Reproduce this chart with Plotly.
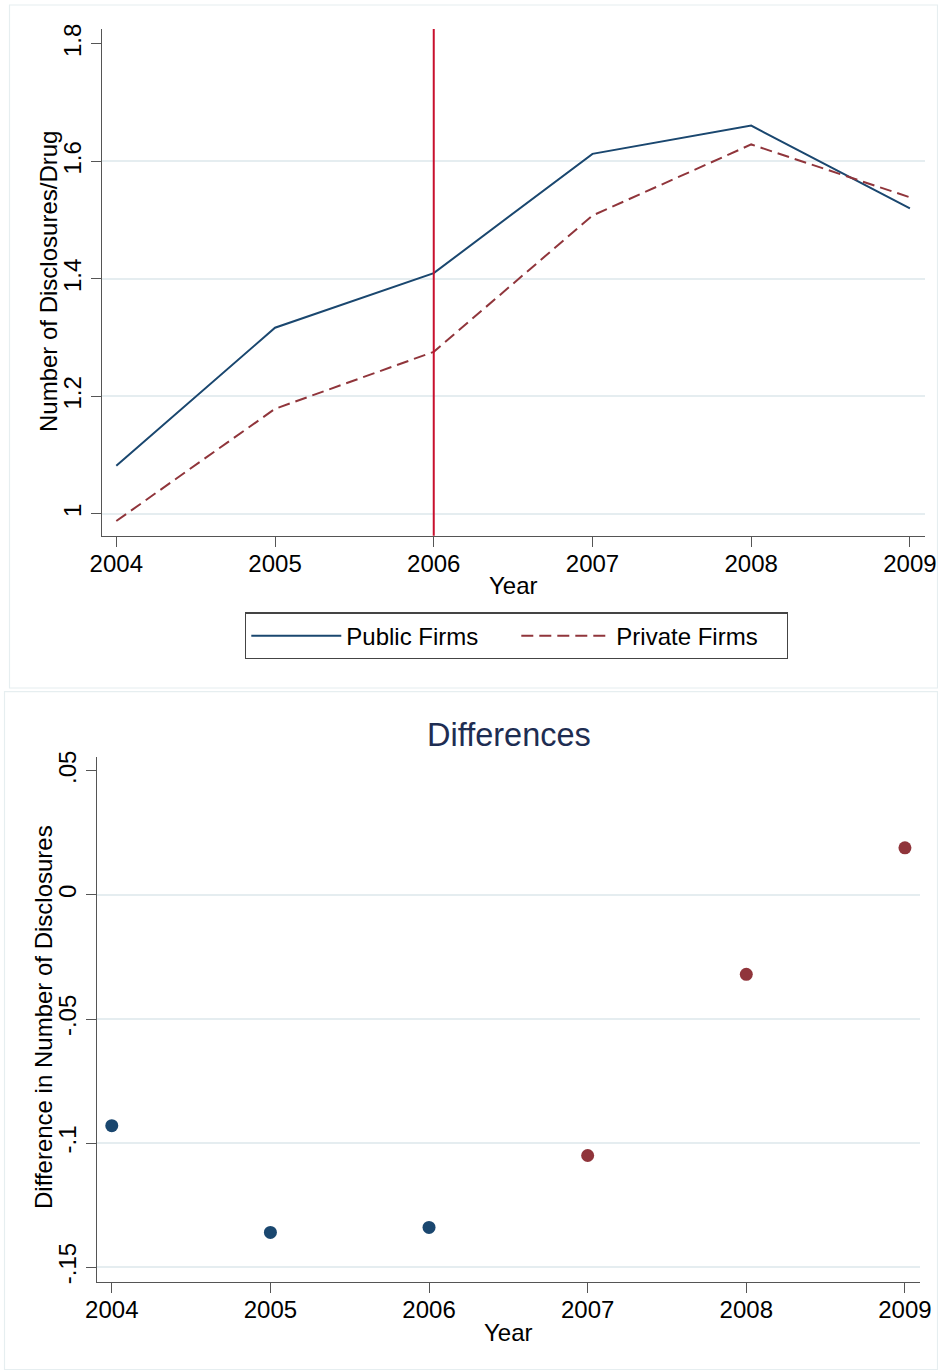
import plotly.graph_objects as go

# ---------------- data ----------------
years = [2004, 2005, 2006, 2007, 2008, 2009]
public_firms = [1.082, 1.317, 1.410, 1.613, 1.661, 1.520]
private_firms = [0.988, 1.179, 1.276, 1.508, 1.629, 1.539]

diff_years_pre = [2004, 2005, 2006]
diff_pre = [-0.093, -0.136, -0.134]
diff_years_post = [2007, 2008, 2009]
diff_post = [-0.105, -0.032, 0.019]

event_year = 2006

top_yticks = [1, 1.2, 1.4, 1.6, 1.8]
top_yticklabels = ["1", "1.2", "1.4", "1.6", "1.8"]
top_ygrid = [1, 1.2, 1.4, 1.6]
bot_yticks = [-0.15, -0.1, -0.05, 0, 0.05]
bot_yticklabels = ["-.15", "-.1", "-.05", "0", ".05"]
bot_ygrid = [-0.15, -0.1, -0.05, 0]

# ---------------- styling ----------------
W, H = 938, 1370
NAVY = "#1a476f"
MAROON = "#90353b"
RED = "#c8102e"
GRID = "#e5edf0"
AXIS = "#555555"
FONT = "Liberation Sans, Arial, sans-serif"
FS = 24


def fx(p):
    return p / W


def fy(p):
    return 1 - p / H


fig = go.Figure()

fig.add_trace(go.Scatter(
    x=years, y=public_firms, mode="lines", name="Public Firms",
    line=dict(color=NAVY, width=2), xaxis="x", yaxis="y"))
fig.add_trace(go.Scatter(
    x=years, y=private_firms, mode="lines", name="Private Firms",
    line=dict(color=MAROON, width=2, dash="12px,6px"), xaxis="x", yaxis="y"))

fig.add_trace(go.Scatter(
    x=diff_years_pre, y=diff_pre, mode="markers", showlegend=False,
    marker=dict(color=NAVY, size=13, line=dict(width=0)), xaxis="x2", yaxis="y2"))
fig.add_trace(go.Scatter(
    x=diff_years_post, y=diff_post, mode="markers", showlegend=False,
    marker=dict(color=MAROON, size=13, line=dict(width=0)), xaxis="x2", yaxis="y2"))

xcommon = dict(
    tickvals=years, ticks="outside", ticklen=10, tickwidth=1.2, tickcolor=AXIS,
    showline=True, linecolor=AXIS, linewidth=1.4, showgrid=False, zeroline=False,
    automargin=False, ticklabelstandoff=-4,
    tickfont=dict(family=FONT, size=FS, color="black"),
)
ycommon = dict(
    ticks="outside", ticklen=10, tickwidth=1.2, tickcolor=AXIS, tickangle=-90,
    showline=True, linecolor=AXIS, linewidth=1.4, showgrid=False, zeroline=False,
    automargin=False,
    tickfont=dict(family=FONT, size=FS, color="black"),
)

fig.update_layout(
    template="none",
    width=W, height=H,
    margin=dict(l=0, r=0, t=0, b=0, pad=0, autoexpand=False),
    paper_bgcolor="white", plot_bgcolor="white",
    font=dict(family=FONT, size=FS, color="black"),
    xaxis=dict(domain=[fx(101.7), fx(925)], range=[2003.908, 2009.095],
               anchor="y", **xcommon),
    yaxis=dict(domain=[fy(535.7), fy(29)], range=[0.963, 1.8255], anchor="x",
               tickvals=top_yticks, ticktext=top_yticklabels,
               minor=dict(tickvals=top_ygrid, showgrid=True, gridcolor=GRID,
                          gridwidth=1.6, ticks=""),
               **ycommon),
    xaxis2=dict(domain=[fx(96.7), fx(920)], range=[2003.905, 2009.095],
                anchor="y2", **xcommon),
    yaxis2=dict(domain=[fy(1282), fy(757.3)], range=[-0.156, 0.0555], anchor="x2",
                tickvals=bot_yticks, ticktext=bot_yticklabels,
                minor=dict(tickvals=bot_ygrid, showgrid=True, gridcolor=GRID,
                           gridwidth=1.6, ticks=""),
                **ycommon),
    legend=dict(
        orientation="h", x=fx(245), y=fy(612.3), xanchor="left", yanchor="top",
        bordercolor="#444444", borderwidth=1.3, bgcolor="white",
        font=dict(family=FONT, size=FS, color="black"),
        itemwidth=90, entrywidth=165,
    ),
    shapes=[
        dict(type="rect", xref="paper", yref="paper",
             x0=fx(9.5), x1=fx(937.5), y0=fy(688), y1=fy(5),
             line=dict(color="#e6eef0", width=1.2), layer="below"),
        dict(type="rect", xref="paper", yref="paper",
             x0=fx(4.5), x1=fx(937.5), y0=fy(1369.5), y1=fy(691.7),
             line=dict(color="#e6eef0", width=1.2), layer="below"),
        dict(type="line", xref="x", yref="y domain",
             x0=event_year, x1=event_year, y0=0, y1=1,
             line=dict(color=RED, width=2), layer="above"),
    ],
    annotations=[
        dict(text="Number of Disclosures/Drug", xref="paper", yref="paper",
             x=fx(48), y=fy(282), textangle=-90, showarrow=False,
             xanchor="center", yanchor="middle",
             font=dict(family=FONT, size=FS, color="black")),
        dict(text="Year", xref="paper", yref="paper",
             x=fx(513.5), y=fy(585), showarrow=False,
             xanchor="center", yanchor="middle",
             font=dict(family=FONT, size=FS, color="black")),
        dict(text="Differences", xref="paper", yref="paper",
             x=fx(509), y=fy(735), showarrow=False,
             xanchor="center", yanchor="middle",
             font=dict(family=FONT, size=32.5, color="#1e2d52")),
        dict(text="Difference in Number of Disclosures", xref="paper", yref="paper",
             x=fx(43), y=fy(1017), textangle=-90, showarrow=False,
             xanchor="center", yanchor="middle",
             font=dict(family=FONT, size=FS, color="black")),
        dict(text="Year", xref="paper", yref="paper",
             x=fx(508), y=fy(1332), showarrow=False,
             xanchor="center", yanchor="middle",
             font=dict(family=FONT, size=FS, color="black")),
    ],
)

fig.write_html(
    "out.html",
    config={"displayModeBar": False},
    post_script="document.body.style.margin='0';document.body.style.overflow='hidden';",
)
